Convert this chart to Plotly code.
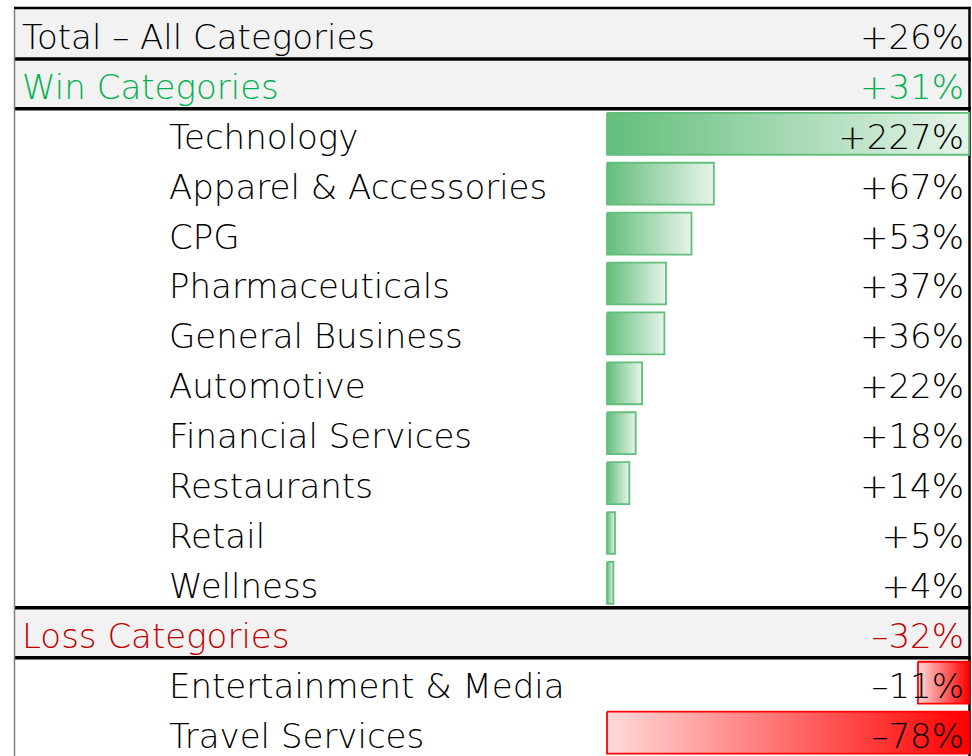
import plotly.graph_objects as go

# ---------------- data ----------------
total_label = "Total – All Categories"
total_value = 26
win_label = "Win Categories"
win_value = 31
loss_label = "Loss Categories"
loss_value = -32

win_categories = ["Technology", "Apparel & Accessories", "CPG", "Pharmaceuticals",
                  "General Business", "Automotive", "Financial Services",
                  "Restaurants", "Retail", "Wellness"]
win_values = [227, 67, 53, 37, 36, 22, 18, 14, 5, 4]

loss_categories = ["Entertainment & Media", "Travel Services"]
loss_values = [-11, -78]

# ---------------- layout helpers ----------------
W, H = 972, 756
FONT = "DejaVu Sans"
FS = 34
GREEN_TXT = "#00B050"
RED_TXT = "#C00000"
GREEN_BAR = "#63BE7B"
RED_BAR = "#FF0000"
TXT_DY = 0.13  # text baseline offset within a row


def fmt(v):
    return ("+" if v >= 0 else "–") + f"{abs(v)}%"


# row indices
row_total = 0
row_win = 1
win_rows = list(range(2, 2 + len(win_categories)))
row_loss = win_rows[-1] + 1
loss_rows = list(range(row_loss + 1, row_loss + 1 + len(loss_categories)))

ROW_PX = 49.9
y_top = -34 / ROW_PX
y_bot = y_top + H / ROW_PX

fig = go.Figure()

shapes = []
# grey header rows
for r in (row_total, row_win, row_loss):
    shapes.append(dict(type="rect", xref="x", yref="y", x0=14, x1=970, y0=r - 0.5, y1=r + 0.5,
                       fillcolor="#F2F2F2", line=dict(width=0), layer="below"))
# thick separators
for yb in (row_total + 0.5, row_win + 0.5, row_loss - 0.5, row_loss + 0.5):
    shapes.append(dict(type="line", xref="x", yref="y", x0=14, x1=971, y0=yb, y1=yb,
                       line=dict(color="black", width=3.5), layer="below"))
# top border
shapes.append(dict(type="line", xref="x", yref="y", x0=14, x1=971, y0=-0.52, y1=-0.52,
                   line=dict(color="black", width=2.5), layer="below"))
# left border
shapes.append(dict(type="line", xref="x", yref="y", x0=14.5, x1=14.5, y0=-0.5, y1=y_bot,
                   line=dict(color="#7F7F7F", width=1.5), layer="below"))
# right border
shapes.append(dict(type="line", xref="x", yref="y", x0=969.5, x1=969.5, y0=-0.5, y1=y_bot,
                   line=dict(color="black", width=2.5), layer="below"))

HB = 0.42
# green data bars (x2 axis)
for r, v in zip(win_rows, win_values):
    fig.add_trace(go.Scatter(
        x=[0, v, v, 0, 0], y=[r - HB, r - HB, r + HB, r + HB, r - HB],
        xaxis="x2", yaxis="y", mode="lines", fill="toself",
        line=dict(color=GREEN_BAR, width=1.8),
        fillgradient=dict(type="horizontal",
                          colorscale=[[0, GREEN_BAR], [1, "#E6F4EA"]]),
        hoverinfo="skip", showlegend=False))

# red data bars (x3 axis)
for r, v in zip(loss_rows, loss_values):
    fig.add_trace(go.Scatter(
        x=[v, 0, 0, v, v], y=[r - HB, r - HB, r + HB, r + HB, r - HB],
        xaxis="x3", yaxis="y", mode="lines", fill="toself",
        line=dict(color=RED_BAR, width=1.8),
        fillgradient=dict(type="horizontal",
                          colorscale=[[0, "#FFDADA"], [1, RED_BAR]]),
        hoverinfo="skip", showlegend=False))

# left-aligned labels (x4 axis, drawn on top)
hdr_rows = [row_total, row_win, row_loss]
hdr_text = [total_label, win_label, loss_label]
hdr_col = ["black", GREEN_TXT, RED_TXT]
fig.add_trace(go.Scatter(
    x=[22] * 3, y=[r + TXT_DY for r in hdr_rows], text=hdr_text, mode="text",
    textposition="middle right", xaxis="x4", yaxis="y",
    textfont=dict(family=FONT, size=FS, color=hdr_col, weight=300),
    hoverinfo="skip", showlegend=False))
det_rows = win_rows + loss_rows
fig.add_trace(go.Scatter(
    x=[169] * len(det_rows), y=[r + TXT_DY for r in det_rows],
    text=win_categories + loss_categories, mode="text", textposition="middle right",
    xaxis="x4", yaxis="y",
    textfont=dict(family=FONT, size=FS, color="black", weight=300),
    hoverinfo="skip", showlegend=False))

# right-aligned values
val_rows = hdr_rows + det_rows
val_text = [fmt(total_value), fmt(win_value), fmt(loss_value)] + \
    [fmt(v) for v in win_values] + [fmt(v) for v in loss_values]
val_col = hdr_col + ["black"] * len(det_rows)
fig.add_trace(go.Scatter(
    x=[964] * len(val_rows), y=[r + TXT_DY for r in val_rows], text=val_text, mode="text",
    textposition="middle left", xaxis="x4", yaxis="y",
    textfont=dict(family=FONT, size=FS, color=val_col, weight=300),
    hoverinfo="skip", showlegend=False))

# bar axes overlay the full-width axis; their ranges place the bar column
BAR_L, BAR_R = 607, 969
px_g = (BAR_R - BAR_L) / max(win_values)
px_r = (BAR_R - BAR_L) / abs(min(loss_values))

fig.update_layout(
    width=W, height=H, margin=dict(l=0, r=0, t=0, b=0),
    paper_bgcolor="white", plot_bgcolor="white",
    xaxis=dict(range=[0, W], domain=[0, 1], visible=False, fixedrange=True),
    xaxis2=dict(range=[-BAR_L / px_g, (W - BAR_L) / px_g], overlaying="x", anchor="y",
                visible=False, fixedrange=True),
    xaxis3=dict(range=[-BAR_R / px_r, (W - BAR_R) / px_r], overlaying="x", anchor="y",
                visible=False, fixedrange=True),
    xaxis4=dict(range=[0, W], overlaying="x", anchor="y", visible=False, fixedrange=True),
    yaxis=dict(range=[y_bot, y_top], visible=False, fixedrange=True),
    shapes=shapes,
    showlegend=False,
)

fig.write_html("out.html", config={"displayModeBar": False},
               post_script="document.body.style.margin='0';document.body.style.overflow='hidden';")
